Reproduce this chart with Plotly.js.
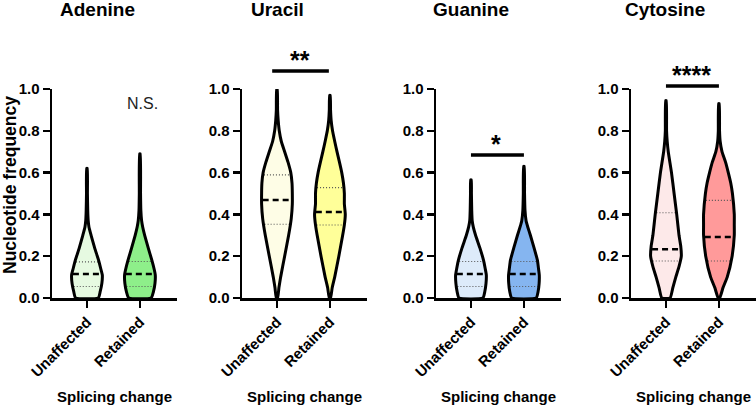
<!DOCTYPE html>
<html>
<head>
<meta charset="utf-8">
<script src="https://cdn.plot.ly/plotly-3.0.1.min.js"></script>
<style>
    html, body { margin: 0; padding: 0; background: #ffffff; }
    #chart { width: 756px; height: 406px; }
</style>
</head>
<body>
<div id="chart"></div>
<script>
const nucleotides = ['Adenine', 'Uracil', 'Guanine', 'Cytosine'];
const groups = ['Unaffected', 'Retained'];

// violin profiles: frequency levels and relative width (1 = widest)
const adenineUnaffectedY = [0, 0.03, 0.07, 0.11, 0.14, 0.18, 0.24, 0.30, 0.34, 0.37, 0.42, 0.50, 0.62];
const adenineUnaffectedD = [0.74, 0.86, 0.97, 1.0, 0.9, 0.76, 0.5, 0.27, 0.13, 0.08, 0.05, 0.03, 0.02];
const adenineRetainedY = [0, 0.03, 0.07, 0.11, 0.14, 0.18, 0.24, 0.30, 0.34, 0.37, 0.42, 0.50, 0.69];
const adenineRetainedD = [0.73, 0.88, 0.98, 1.0, 0.92, 0.78, 0.54, 0.31, 0.18, 0.11, 0.06, 0.04, 0.02];

const uracilUnaffectedY = [0, 0.05, 0.1, 0.2, 0.3, 0.38, 0.45, 0.5, 0.55, 0.6, 0.65, 0.7, 0.75, 0.8, 0.85, 0.9, 1.0];
const uracilUnaffectedD = [0.04, 0.13, 0.24, 0.5, 0.76, 0.93, 1.0, 1.0, 0.98, 0.9, 0.72, 0.5, 0.28, 0.15, 0.08, 0.04, 0.02];
const uracilRetainedY = [0, 0.05, 0.1, 0.2, 0.3, 0.35, 0.4, 0.45, 0.5, 0.55, 0.6, 0.65, 0.7, 0.75, 0.8, 0.85, 0.9, 0.97];
const uracilRetainedD = [0.04, 0.15, 0.31, 0.58, 0.83, 0.94, 1.0, 0.94, 0.94, 0.88, 0.77, 0.62, 0.46, 0.31, 0.17, 0.08, 0.04, 0.02];

const guanineUnaffectedY = [0, 0.03, 0.07, 0.11, 0.14, 0.18, 0.24, 0.30, 0.34, 0.37, 0.42, 0.50, 0.565];
const guanineUnaffectedD = [0.78, 0.9, 0.98, 1.0, 0.93, 0.82, 0.58, 0.3, 0.15, 0.08, 0.05, 0.03, 0.02];
const guanineRetainedY = [0, 0.03, 0.07, 0.11, 0.14, 0.18, 0.24, 0.30, 0.34, 0.37, 0.42, 0.50, 0.63];
const guanineRetainedD = [0.8, 0.92, 0.99, 1.0, 0.95, 0.88, 0.66, 0.42, 0.25, 0.14, 0.07, 0.04, 0.02];

const cytosineUnaffectedY = [0, 0.05, 0.1, 0.15, 0.2, 0.25, 0.3, 0.4, 0.5, 0.6, 0.7, 0.75, 0.8, 0.945];
const cytosineUnaffectedD = [0.27, 0.45, 0.64, 0.85, 1.0, 0.96, 0.85, 0.7, 0.53, 0.36, 0.15, 0.08, 0.04, 0.02];
const cytosineRetainedY = [0, 0.05, 0.1, 0.2, 0.3, 0.35, 0.4, 0.5, 0.55, 0.6, 0.65, 0.7, 0.75, 0.8, 0.93];
const cytosineRetainedD = [0.05, 0.27, 0.54, 0.86, 1.0, 1.0, 1.0, 0.88, 0.77, 0.61, 0.43, 0.2, 0.08, 0.04, 0.02];

const profiles = [
    [[adenineUnaffectedY, adenineUnaffectedD], [adenineRetainedY, adenineRetainedD]],
    [[uracilUnaffectedY, uracilUnaffectedD], [uracilRetainedY, uracilRetainedD]],
    [[guanineUnaffectedY, guanineUnaffectedD], [guanineRetainedY, guanineRetainedD]],
    [[cytosineUnaffectedY, cytosineUnaffectedD], [cytosineRetainedY, cytosineRetainedD]]
];

// [unaffected, retained] per nucleotide
const medians = [[0.115, 0.115], [0.469, 0.411], [0.115, 0.115], [0.233, 0.292]];
const lowerQuartiles = [[0.055, 0.055], [0.353, 0.349], [0.055, 0.055], [0.177, 0.177]];
const upperQuartiles = [[0.173, 0.175], [0.589, 0.528], [0.175, 0.175], [0.408, 0.467]];

const sigLabels = ['N.S.', '**', '*', '****'];
const sigBarHeights = [null, 1.086, 0.684, 1.014];

const fillColors = [
    ['#e6fae1', '#8eef8a'],
    ['#fefde6', '#ffff99'],
    ['#ddebfa', '#85b5f0'],
    ['#fde9e9', '#ff9a9a']
];

const FONT = 'Liberation Sans, Arial, Helvetica, sans-serif';
const W = 756, H = 406;
const HALF = 0.29;
const xDomainsPx = [[52, 177], [242, 367], [436, 561], [631, 756]];
const yBottomPx = 298, yTopPx = 89;
const yDomain = [1 - yBottomPx / H, 1 - yTopPx / H];
const titleXPx = [97, 277, 471, 665];

function interp(ys, ds, v) {
    for (let i = 1; i < ys.length; i++) {
        if (v <= ys[i]) {
            const t = (v - ys[i - 1]) / (ys[i] - ys[i - 1]);
            return ds[i - 1] + t * (ds[i] - ds[i - 1]);
        }
    }
    return ds[ds.length - 1];
}

function toPaperY(v) {
    return yDomain[0] + v * (yDomain[1] - yDomain[0]);
}

const traces = [];
const outlines = [];
const layout = {
    width: W,
    height: H,
    autosize: false,
    margin: { l: 0, r: 0, t: 0, b: 0 },
    paper_bgcolor: '#ffffff',
    plot_bgcolor: 'rgba(0,0,0,0)',
    showlegend: false,
    annotations: [],
    shapes: []
};

nucleotides.forEach((name, p) => {
    const s = p === 0 ? '' : String(p + 1);
    const xa = 'x' + s, ya = 'y' + s;

    groups.forEach((g, j) => {
        const [ys, ds] = profiles[p][j];
        const right = ys.map((y, i) => j + ds[i] * HALF);
        const left = ys.map((y, i) => j - ds[i] * HALF).reverse();
        const xs = right.concat(left, [right[0]]);
        const yy = ys.concat(ys.slice().reverse(), [ys[0]]);

        traces.push({
            type: 'scatter', mode: 'lines', x: xs, y: yy,
            xaxis: xa, yaxis: ya,
            fill: 'toself', fillcolor: fillColors[p][j],
            line: { width: 0, shape: 'spline', smoothing: 0.45 },
            hoverinfo: 'skip', showlegend: false
        });

        [lowerQuartiles[p][j], upperQuartiles[p][j]].forEach(q => {
            const hw = interp(ys, ds, q) * HALF - 0.02;
            traces.push({
                type: 'scatter', mode: 'lines', x: [j - hw, j + hw], y: [q, q],
                xaxis: xa, yaxis: ya,
                line: { color: '#555555', width: 1.1, dash: '1px,2px' },
                hoverinfo: 'skip', showlegend: false
            });
        });

        const m = medians[p][j];
        const mhw = interp(ys, ds, m) * HALF - 0.02;
        traces.push({
            type: 'scatter', mode: 'lines', x: [j - mhw, j + mhw], y: [m, m],
            xaxis: xa, yaxis: ya,
            line: { color: '#000000', width: 2.5, dash: '6px,4px' },
            hoverinfo: 'skip', showlegend: false
        });

        outlines.push({
            type: 'scatter', mode: 'lines', x: xs, y: yy,
            xaxis: xa, yaxis: ya,
            line: { color: '#000000', width: 3, shape: 'spline', smoothing: 0.45 },
            hoverinfo: 'skip', showlegend: false
        });
    });

    const dom = [xDomainsPx[p][0] / W, xDomainsPx[p][1] / W];
    layout['xaxis' + s] = {
        domain: dom,
        anchor: ya,
        range: [-0.66, 1.7],
        tickvals: [0, 1],
        ticktext: groups,
        tickangle: -45,
        ticks: 'outside', ticklen: 7, tickwidth: 2.5, tickcolor: '#000000',
        showline: true, linewidth: 2.5, linecolor: '#000000',
        showgrid: false, zeroline: false, fixedrange: true,
        tickfont: { family: FONT, size: 15, color: '#000000', weight: 'bold' }
    };
    layout['yaxis' + s] = {
        domain: yDomain,
        anchor: xa,
        range: [0, 1],
        tick0: 0, dtick: 0.2, tickformat: '.1f',
        ticks: 'outside', ticklen: 7, tickwidth: 2.5, tickcolor: '#000000',
        showline: true, linewidth: 2.5, linecolor: '#000000',
        showgrid: false, zeroline: false, fixedrange: true,
        tickfont: { family: FONT, size: 15, color: '#000000', weight: 'bold' }
    };

    // panel title
    layout.annotations.push({
        xref: 'paper', yref: 'paper', x: titleXPx[p] / W, y: 1 - 10 / H,
        xanchor: 'center', yanchor: 'middle', showarrow: false,
        text: name,
        font: { family: FONT, size: 19, color: '#000000', weight: 'bold' }
    });

    // x axis title
    layout.annotations.push({
        xref: 'paper', yref: 'paper', x: (dom[0] + dom[1]) / 2, y: 1 - 396 / H,
        xanchor: 'center', yanchor: 'middle', showarrow: false,
        text: 'Splicing change',
        font: { family: FONT, size: 15, color: '#000000', weight: 'bold' }
    });

    // significance
    const bar = sigBarHeights[p];
    if (bar === null) {
        layout.annotations.push({
            xref: xa, yref: 'paper', x: 1.04, y: toPaperY(0.933),
            xanchor: 'center', yanchor: 'middle', showarrow: false,
            text: sigLabels[p],
            font: { family: FONT, size: 16, color: '#222222' }
        });
    } else {
        layout.shapes.push({
            type: 'line', xref: xa, yref: 'paper',
            x0: p === 1 ? -0.09 : 0, x1: p === 1 ? 0.98 : 1,
            y0: toPaperY(bar), y1: toPaperY(bar),
            line: { color: '#000000', width: 3.5 }
        });
        layout.annotations.push({
            xref: xa, yref: 'paper', x: p === 1 ? 0.44 : 0.48, y: toPaperY(bar) - 5 / H,
            xanchor: 'center', yanchor: 'bottom', showarrow: false,
            text: sigLabels[p],
            font: { family: FONT, size: 25, color: '#000000', weight: 'bold' }
        });
    }
});

// shared y axis title on the first panel
layout.annotations.push({
    xref: 'paper', yref: 'paper', x: 10 / W, y: 1 - 185 / H,
    xanchor: 'center', yanchor: 'middle', showarrow: false, textangle: -90,
    text: 'Nucleotide frequency',
    font: { family: FONT, size: 17.5, color: '#000000', weight: 'bold' }
});

Plotly.newPlot('chart', [...traces, ...outlines], layout, { displayModeBar: false, staticPlot: true });
</script>
</body>
</html>
